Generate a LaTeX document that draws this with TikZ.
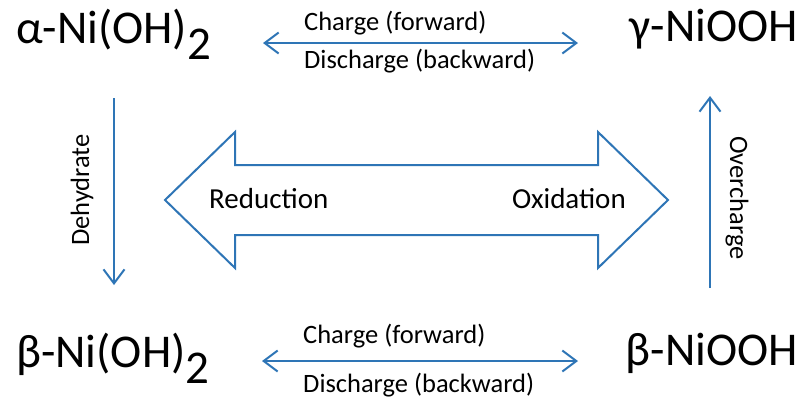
\documentclass[tikz,border=0pt]{standalone}
\usepackage{fontspec}
\setmainfont{Carlito}
\usetikzlibrary{arrows.meta}
\definecolor{nicblue}{RGB}{46,117,182}
\begin{document}
\begin{tikzpicture}[x=1pt, y=-1pt, >={Straight Barb[length=14pt, width=21pt]}]
    % Styles
    \tikzset{phase/.style={inner sep=0pt, font=\fontsize{47}{50}\selectfont},
             small label/.style={inner sep=0pt, font=\fontsize{26.5}{29}\selectfont},
             big label/.style={inner sep=0pt, font=\fontsize{29}{32}\selectfont},
             link/.style={draw=nicblue, line width=2pt}}
    \useasboundingbox (0,0) rectangle (801,400);

    % Four phases
    \node[phase, anchor=base west] (alpha) at (16, 43) {α-Ni(OH)\raisebox{-16pt}{2}};
    \node[phase, anchor=base east] (gamma) at (798, 41) {γ-NiOOH};
    \node[phase, anchor=base west] (beta1) at (16, 367) {β-Ni(OH)\raisebox{-16pt}{2}};
    \node[phase, anchor=base east] (beta2) at (798, 365) {β-NiOOH};

    % Top row: charge / discharge
    \coordinate (t1) at (263, 43);
    \coordinate (t2) at (578, 43);
    \draw[link, <->] (t1) -- (t2);
    \node[small label, anchor=base west] (tc) at (304, 30) {Charge (forward)};
    \node[small label, anchor=base west] (td) at (304, 68) {Discharge (backward)};

    % Bottom row: charge / discharge
    \coordinate (b1) at (262, 361);
    \coordinate (b2) at (578, 361);
    \draw[link, <->] (b1) -- (b2);
    \node[small label, anchor=base west] (bc) at (303, 343) {Charge (forward)};
    \node[small label, anchor=base west] (bd) at (303, 392) {Discharge (backward)};

    % Dehydrate and overcharge
    \coordinate (l1) at (114, 98);
    \coordinate (l2) at (114, 285);
    \draw[link, ->] (l1) -- (l2);
    \node[small label, rotate=90] (dehyd) at (82, 190) {Dehydrate};
    \coordinate (r1) at (710, 288);
    \coordinate (r2) at (710, 96);
    \draw[link, ->] (r1) -- (r2);
    \node[small label, rotate=-90] (overch) at (737, 198) {Overcharge};

    % Big double arrow
    \draw[nicblue, line width=2pt, line join=miter, fill=white]
        (165,200) -- (235,132) -- (235,165) -- (598,165) -- (598,132) -- (668,200)
        -- (598,268) -- (598,235) -- (235,235) -- (235,268) -- cycle;
    \node[big label, anchor=base west] (red) at (209, 208) {Reduction};
    \node[big label, anchor=base east] (ox) at (626, 208) {Oxidation};
\end{tikzpicture}
\end{document}
